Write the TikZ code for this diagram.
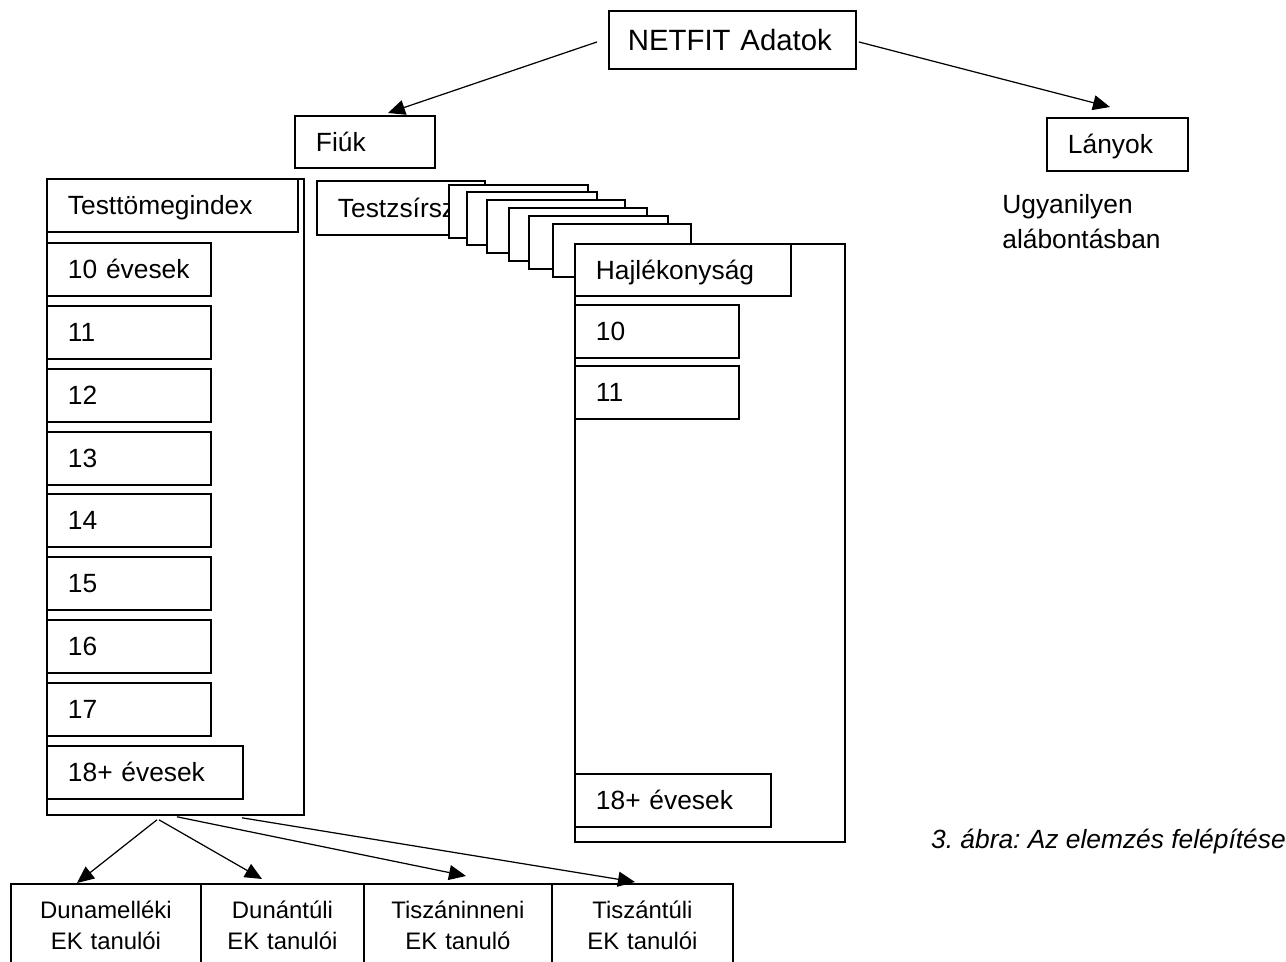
\documentclass[tikz,border=0pt]{standalone}
\usepackage{fontspec}
\setmainfont{Liberation Sans}
\usepackage{tikz}
\usetikzlibrary{arrows.meta,positioning}
\frenchspacing
\tikzstyle{arrow} = [line width=0.7pt,-{Triangle[length=0.34cm,width=0.3cm]}]
\tikzstyle{cell} = [rectangle, draw, line width=1.1pt, fill=white, anchor=north west, inner xsep=0.42cm, inner ysep=0pt, text height=0.37cm, text depth=0pt, align=left, minimum height=1.06cm, font=\fontsize{15pt}{17pt}\selectfont]
\tikzstyle{frame} = [rectangle, draw, line width=1.1pt, fill=white, anchor=north west, inner sep=0pt]
\tikzstyle{region} = [rectangle, draw, line width=1.1pt, anchor=north west, align=center, inner xsep=0pt, inner ysep=0.34cm, font=\fontsize{13.6pt}{17.6pt}\selectfont]

\begin{document}
\begin{tikzpicture}[x=0.02cm,y=-0.02cm]
\useasboundingbox (0,0) rectangle (1286,962);
% top level
\node (netfit) [cell, text width=4.3cm, inner xsep=0.32cm, minimum height=1.16cm, text height=0.42cm, font=\fontsize{16.7pt}{19pt}\selectfont] at (608,10) {\hspace*{0.06cm}NETFIT Adatok};
\node (fiuk) [cell, text width=1.96cm, minimum height=1.04cm] at (294,115) {Fiúk};
\node (lanyok) [cell, text width=1.98cm] at (1046,117) {Lányok};
\node (same) [anchor=north west, inner sep=0pt, align=left, font=\fontsize{15pt}{19.9pt}\selectfont] at (1002,194) {Ugyanilyen\\alábontásban};

\draw[arrow] ([xshift=-0.22cm,yshift=-0.04cm]netfit.west) -- ([xshift=1.88cm,yshift=0.04cm]fiuk.north west);
\draw[arrow] ([xshift=0.04cm,yshift=-0.04cm]netfit.east) -- ([xshift=1.28cm,yshift=0.2cm]lanyok.north west);

% Testtomegindex column
\node (tmiframe) [frame, minimum width=5.14cm, minimum height=12.72cm] at (46,178) {};
\node (tmi) [cell, text width=4.18cm] at (46,178) {Testtömegindex};
\node (a10) [cell, text width=2.44cm] at (46,242) {10 évesek};
\node (a11) [cell, text width=2.44cm] at (46,305) {11};
\node (a12) [cell, text width=2.44cm] at (46,368) {12};
\node (a13) [cell, text width=2.44cm] at (46,431) {13};
\node (a14) [cell, text width=2.44cm] at (46,493) {14};
\node (a15) [cell, text width=2.44cm] at (46,556) {15};
\node (a16) [cell, text width=2.44cm] at (46,619) {16};
\node (a17) [cell, text width=2.44cm] at (46,682) {17};
\node (a18) [cell, text width=3.08cm] at (46,745) {18+ évesek};

% the other tests, stacked
\node (tzs) [cell, text width=2.52cm, minimum height=1.08cm] at (316,180) {Testzsírsz};
\node (s1) [frame, minimum width=2.78cm, minimum height=1.06cm] at (448,184) {};
\node (s2) [frame, minimum width=2.6cm, minimum height=1.06cm] at (466,191) {};
\node (s3) [frame, minimum width=2.76cm, minimum height=1.06cm] at (486,199) {};
\node (s4) [frame, minimum width=2.76cm, minimum height=1.06cm] at (508,207) {};
\node (s5) [frame, minimum width=2.78cm, minimum height=1.06cm] at (528,215) {};
\node (s6) [frame, minimum width=2.76cm, minimum height=1.06cm] at (552,223) {};

% Hajlekonysag column
\node (hajframe) [frame, minimum width=5.4cm, minimum height=11.96cm] at (574,243) {};
\node (haj) [cell, text width=3.48cm, minimum height=1.04cm] at (574,243) {Hajlékonyság};
\node (h10) [cell, text width=2.44cm] at (574,304) {10};
\node (h11) [cell, text width=2.44cm] at (574,365) {11};
\node (h18) [cell, text width=3.08cm] at (574,773) {18+ évesek};

% regions
\node (dmel) [region, text width=3.8cm] at (10,883) {Dunamelléki\\EK tanulói};
\node (dtul) [region, text width=3.26cm] at (200,883) {Dunántúli\\EK tanulói};
\node (tinn) [region, text width=3.76cm] at (363,883) {Tiszáninneni\\EK tanuló};
\node (ttul) [region, text width=3.62cm] at (551,883) {Tiszántúli\\EK tanulói};

\draw[arrow] ([xshift=2.22cm,yshift=-0.08cm]tmiframe.south west) -- ([xshift=1.34cm]dmel.north west);
\draw[arrow] ([xshift=2.26cm,yshift=-0.08cm]tmiframe.south west) -- ([xshift=1.24cm,yshift=0.08cm]dtul.north west);
\draw[arrow] ([xshift=2.62cm,yshift=-0.02cm]tmiframe.south west) -- ([xshift=2.06cm,yshift=0.14cm]tinn.north west);
\draw[arrow] ([xshift=3.92cm,yshift=-0.04cm]tmiframe.south west) -- ([xshift=1.68cm,yshift=0.02cm]ttul.north west);

\node (caption) [anchor=base west, font=\fontsize{15pt}{17pt}\selectfont\itshape] at (925,849) {3. ábra: Az elemzés felépítése};
\end{tikzpicture}
\end{document}
